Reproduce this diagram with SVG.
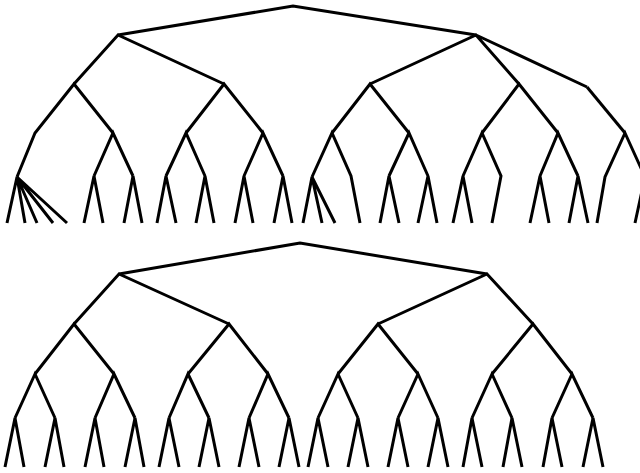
<svg xmlns="http://www.w3.org/2000/svg" width="640" height="473" viewBox="0 0 640 473">
<style>
.e{fill:none;stroke:#000;stroke-width:3;stroke-linejoin:miter;stroke-linecap:butt}
</style>
<rect width="640" height="473" fill="#fff"/>
<g id="connectors" class="e">
<g id="tree-top">
<path d="M118,35 L293,6 L476,35"/>
<path d="M74,84 L118,35 L224,84"/>
<path d="M370,84 L476,35 L519,84 M476,35 L587,87"/>
<path d="M17,177 L35,133 L74,84 L113,133"/>
<path d="M7,223 L17,177 L25,223 M17,177 L37,223 M17,177 L53,223 M17,177 L67,223"/>
<path d="M94,176 L113,133 L133,176"/>
<path d="M84,223 L94,176 L103,223 M124,223 L133,176 L142,223"/>
<path d="M186,133 L224,84 L263,133"/>
<path d="M166,176 L186,133 L205,176 M157,223 L166,176 L176,223 M196,223 L205,176 L214,223"/>
<path d="M244,176 L263,133 L283,176 M235,223 L244,176 L253,223 M274,223 L283,176 L292,223"/>
<path d="M332,133 L370,84 L409,133"/>
<path d="M312,177 L332,133 L351,176 L360,223"/>
<path d="M303,223 L312,177 L322,223 M312,177 L335,223"/>
<path d="M389,176 L409,133 L428,176 M380,223 L389,176 L399,223 M418,223 L428,176 L437,223"/>
<path d="M482,133 L519,84 L558,133"/>
<path d="M463,176 L482,133 L501,176 L492,223 M453,223 L463,176 L472,223"/>
<path d="M540,176 L558,133 L578,176 M530,223 L540,176 L549,223 M569,223 L578,176 L588,223"/>
<path d="M587,87 L625,133"/>
<path d="M597,223 L605,177 L625,133 L645,177 L635,223"/>
</g>
<g id="tree-bottom">
<path d="M119,274 L300,243 L487,274"/>
<path d="M74,324 L119,274 L229,324"/>
<path d="M378,324 L487,274 L533,324"/>
<path d="M35,374 L74,324 L114,374 M188,374 L229,324 L268,374"/>
<path d="M338,374 L378,324 L418,374 M492,374 L533,324 L572,374"/>
<path d="M15,418 L35,374 L55,418 M95,418 L114,374 L135,418"/>
<path d="M169,418 L188,374 L209,418 M249,418 L268,374 L289,418"/>
<path d="M318,418 L338,374 L358,418 M398,418 L418,374 L438,418"/>
<path d="M472,418 L492,374 L512,418 M552,418 L572,374 L593,418"/>
<path d="M5,467 L15,418 L24,467 M45,467 L55,418 L64,467 M85,467 L95,418 L104,467 M125,467 L135,418 L144,467"/>
<path d="M159,467 L169,418 L179,467 M199,467 L209,418 L219,467 M239,467 L249,418 L259,467 M279,467 L289,418 L299,467"/>
<path d="M308,467 L318,418 L328,467 M348,467 L358,418 L368,467 M388,467 L398,418 L408,467 M428,467 L438,418 L448,467"/>
<path d="M463,467 L472,418 L482,467 M503,467 L512,418 L522,467 M543,467 L552,418 L562,467 M583,467 L593,418 L603,467"/>
</g>
</g>
</svg>
